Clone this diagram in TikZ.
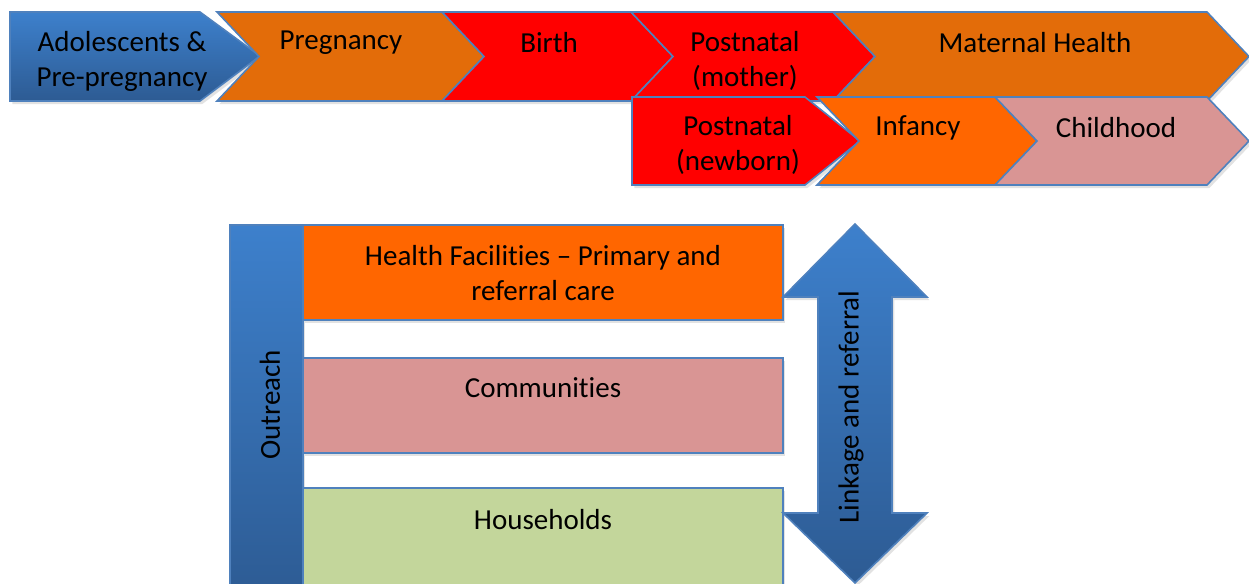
\documentclass[tikz,border=0pt]{standalone}
\usepackage{fontspec}
\setmainfont{Carlito}[Ligatures=NoCommon]
\usetikzlibrary{shadows}

\definecolor{edgeblue}{HTML}{4F81BD}
\definecolor{bluetop}{HTML}{3D80CC}
\definecolor{bluebot}{HTML}{2D5B93}
\definecolor{darkorange}{HTML}{E36C09}
\definecolor{brightorange}{HTML}{FF6600}
\definecolor{rose}{HTML}{D99594}
\definecolor{olivegreen}{HTML}{C3D69B}

% chevron: style, left x, right x, top y, bottom y
\newcommand{\chevron}[5]{
  \path[stage,#1] (#2,#4) -- (#3,#4) -- ({#3+42},{(#4+#5)/2}) -- (#3,#5)
        -- (#2,#5) -- ({#2+42},{(#4+#5)/2}) -- cycle;
}

\begin{document}
\begin{tikzpicture}[x=0.5pt,y=-0.5pt,
    stage/.style={draw=edgeblue, line width=0.8pt,
        drop shadow={shadow xshift=1.2pt, shadow yshift=-1.5pt, fill=black!25, opacity=.45}},
    bluefill/.style={top color=bluetop, bottom color=bluebot},
    lbl/.style={font=\fontsize{14.5}{17.5}\selectfont, align=center, inner sep=0pt, text=black}]

    \useasboundingbox (0,0) rectangle (1249,584);

    % top row
    \path[stage,bluefill] (10,12) -- (200,12) -- (260,56) -- (200,101) -- (10,101) -- cycle;
    \chevron{fill=darkorange}{217}{442}{12}{101}
    \chevron{fill=red}{442}{631}{12}{101}
    \chevron{fill=red}{631}{833}{12}{101}
    \chevron{fill=darkorange}{833}{1207}{12}{101}

    % second row
    \path[stage,fill=red] (632,97) -- (805,97) -- (860,141) -- (805,185) -- (632,185) -- cycle;
    \chevron{fill=brightorange}{817}{995}{97}{185}
    \chevron{fill=rose}{995}{1207}{97}{185}

    \path   (122,61)  node (adol) [lbl] {Adolescents \&\\Pre-pregnancy}
            (341,43)  node (preg) [lbl] {Pregnancy}
            (549,43)  node (birth) [lbl] {Birth}
            (745,61)  node (mother) [lbl] {Postnatal\\(mother)}
            (1035,43) node (maternal) [lbl] {Maternal Health}
            (738,145) node (newborn) [lbl] {Postnatal\\(newborn)}
            (918,128) node (infancy) [lbl] {Infancy}
            (1116,128) node (child) [lbl] {Childhood};

    % levels of care
    \path[stage,bluefill] (230,225) rectangle (303,600);
    \path[stage,fill=brightorange] (303,225) rectangle (783,320);
    \path[stage,fill=rose] (303,358) rectangle (783,453);
    \path[stage,fill=olivegreen] (303,488) rectangle (783,600);

    \path[stage,bluefill] (855,224) -- (927,297) -- (892,297) -- (892,513) -- (927,513)
        -- (855,583) -- (783,513) -- (818,513) -- (818,297) -- (783,297) -- cycle;

    \path   (543,273) node (facility) [lbl] {Health Facilities -- Primary and\\referral care}
            (543,388) node (community) [lbl] {Communities}
            (543,520) node (household) [lbl] {Households}
            (270,405) node (outreach) [lbl, rotate=90] {Outreach}
            (851,407) node (linkage) [lbl, rotate=90] {Linkage and referral};

\end{tikzpicture}
\end{document}
